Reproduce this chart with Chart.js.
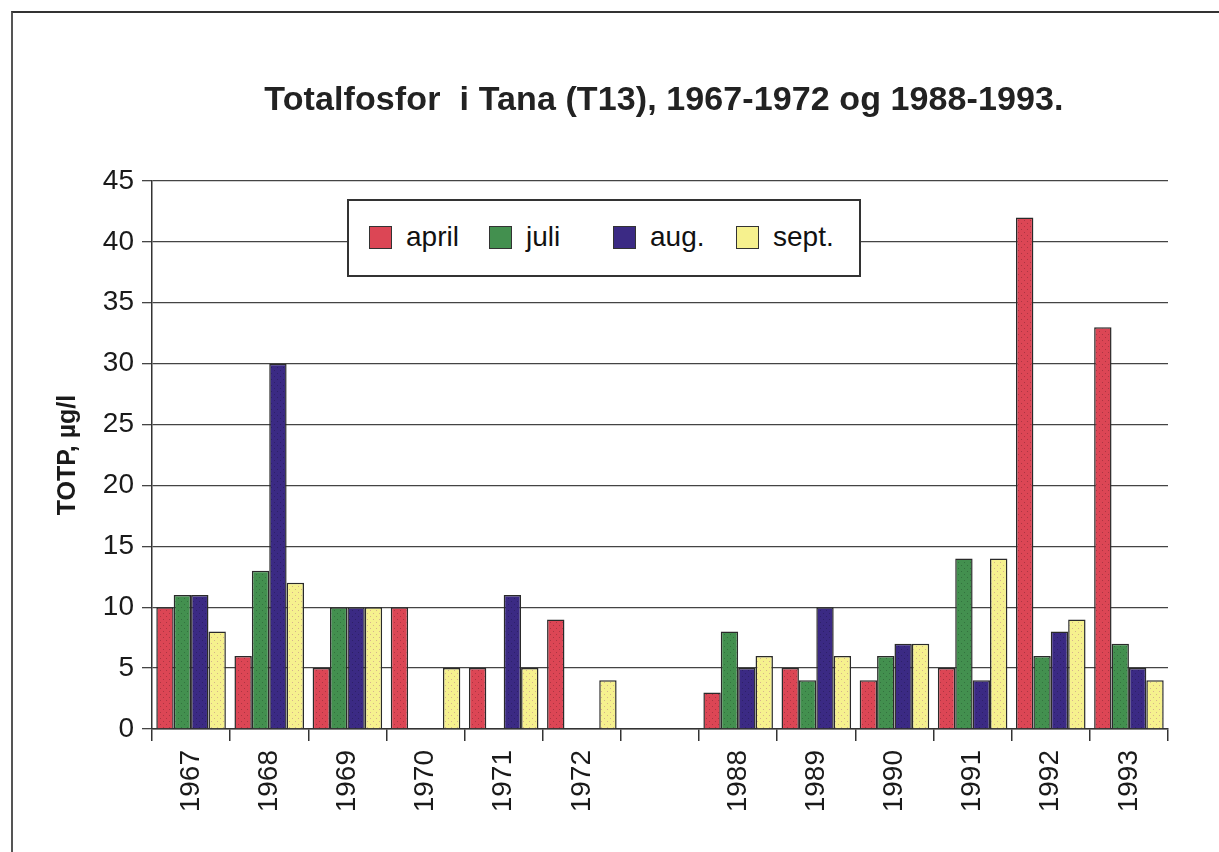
<!DOCTYPE html>
<html>
<head>
<meta charset="utf-8">
<title>Totalfosfor i Tana</title>
<script src="https://cdn.jsdelivr.net/npm/chart.js@4"></script>
<style>
    html, body {
        margin: 0;
        padding: 0;
        background: #fff;
    }
    .page {
        position: relative;
        width: 1219px;
        height: 852px;
        overflow: hidden;
        font-family: "Liberation Sans", Arial, sans-serif;
    }
    .frame {
        position: absolute;
        left: 11px;
        top: 11px;
        width: 1300px;
        height: 900px;
        border-top: 2px solid #333;
        border-left: 2px solid #555;
    }
    #chart {
        position: absolute;
        left: 0;
        top: 0;
    }
    .title {
        position: absolute;
        left: 0;
        width: 1328px;
        top: 79px;
        text-align: center;
        font-weight: bold;
        font-size: 34px;
        color: #222;
        letter-spacing: 0.1px;
    }
    .legend {
        position: absolute;
        left: 347px;
        top: 199px;
        width: 510px;
        height: 74px;
        border: 2px solid #333;
        background: #fff;
        font-size: 28px;
        color: #111;
    }
    .legend .item {
        position: absolute;
        top: 20px;
        display: flex;
        align-items: center;
    }
    .legend .swatch {
        width: 23px;
        height: 23px;
        border: 1.5px solid #333;
        box-sizing: border-box;
        margin-right: 14px;
    }
</style>
</head>
<body>
<div class="page">
    <div class="frame"></div>
    <canvas id="chart" width="1219" height="852"></canvas>
    <div class="title">Totalfosfor&nbsp; i Tana (T13), 1967-1972 og 1988-1993.</div>
    <div class="legend" id="legend"></div>
</div>
<script>
// Years on the x axis, an empty slot separates the two periods
const years = ["1967", "1968", "1969", "1970", "1971", "1972", "", "1988", "1989", "1990", "1991", "1992", "1993"];

// TOTP values (µg/l) per month, null = no sample
const april = [10, 6, 5, 10, 5, 9, null, 3, 5, 4, 5, 42, 33];
const juli = [11, 13, 10, null, null, null, null, 8, 4, 6, 14, 6, 7];
const aug = [11, 30, 10, null, 11, null, null, 5, 10, 7, 4, 8, 5];
const sept = [8, 12, 10, 5, 5, 4, null, 6, 6, 7, 14, 9, 4];

const seriesNames = ["april", "juli", "aug.", "sept."];
const seriesColors = ["#dc4655", "#43904f", "#3b2a84", "#f6f18e"];
const dotColors = ["#8a2a36", "#2a5e33", "#241a55", "#c08a8a"];

const yTicks = [0, 5, 10, 15, 20, 25, 30, 35, 40, 45];

const ctx = document.getElementById("chart").getContext("2d");

/**
 * Make a stippled fill like the printed bars
 *
 * @param {string} base Fill colour
 * @param {string} dot Colour of the dots
 */
function dotPattern(base, dot) {
    const c = document.createElement("canvas");
    c.width = 6;
    c.height = 6;
    const p = c.getContext("2d");
    p.fillStyle = base;
    p.fillRect(0, 0, 6, 6);
    p.fillStyle = dot;
    p.globalAlpha = 0.6;
    p.fillRect(1, 1, 1, 1);
    p.fillRect(4, 4, 1, 1);
    return ctx.createPattern(c, "repeat");
}

const values = [april, juli, aug, sept];
const datasets = values.map((data, i) => ({
    label: seriesNames[i],
    data: data,
    backgroundColor: dotPattern(seriesColors[i], dotColors[i]),
    borderColor: "#2a2a2a",
    borderWidth: 1.5,
    categoryPercentage: 0.89,
    barPercentage: 1.0
}));

// Legend in a box on top of the grid
const legend = document.getElementById("legend");
const legendX = [20, 140, 264, 387];
seriesNames.forEach((name, i) => {
    const item = document.createElement("div");
    item.className = "item";
    item.style.left = legendX[i] + "px";
    item.innerHTML = `<div class="swatch" style="background:${seriesColors[i]}"></div><span>${name}</span>`;
    legend.appendChild(item);
});

new Chart(ctx, {
    type: "bar",
    data: {
        labels: years,
        datasets: datasets
    },
    options: {
        responsive: false,
        animation: false,
        layout: {
            padding: { top: 181, right: 51, bottom: 0, left: 0 }
        },
        scales: {
            x: {
                offset: true,
                grid: {
                    offset: true,
                    drawOnChartArea: false,
                    drawTicks: true,
                    tickLength: 12,
                    color: "#333",
                    lineWidth: 1.5
                },
                border: { color: "#333", width: 1.5 },
                ticks: {
                    minRotation: 90,
                    maxRotation: 90,
                    autoSkip: false,
                    padding: 9,
                    color: "#1a1a1a",
                    font: { family: "Liberation Sans, Arial", size: 28 }
                },
                afterFit: (scale) => { scale.height = 123 }
            },
            y: {
                min: 0,
                max: 45,
                afterBuildTicks: (scale) => {
                    scale.ticks = yTicks.map(v => ({ value: v }));
                },
                grid: {
                    color: "#444",
                    lineWidth: 1.3,
                    tickLength: 10
                },
                border: { color: "#333", width: 1.5 },
                ticks: {
                    padding: 8,
                    color: "#1a1a1a",
                    font: { family: "Liberation Sans, Arial", size: 28 }
                },
                title: {
                    display: true,
                    text: "TOTP, µg/l",
                    color: "#1a1a1a",
                    padding: { top: 53, bottom: 0 },
                    font: { family: "Liberation Sans, Arial", size: 25, weight: "bold" }
                },
                afterFit: (scale) => { scale.width = 152 }
            }
        },
        plugins: {
            legend: { display: false },
            title: { display: false },
            tooltip: { enabled: false }
        }
    }
});
</script>
</body>
</html>
